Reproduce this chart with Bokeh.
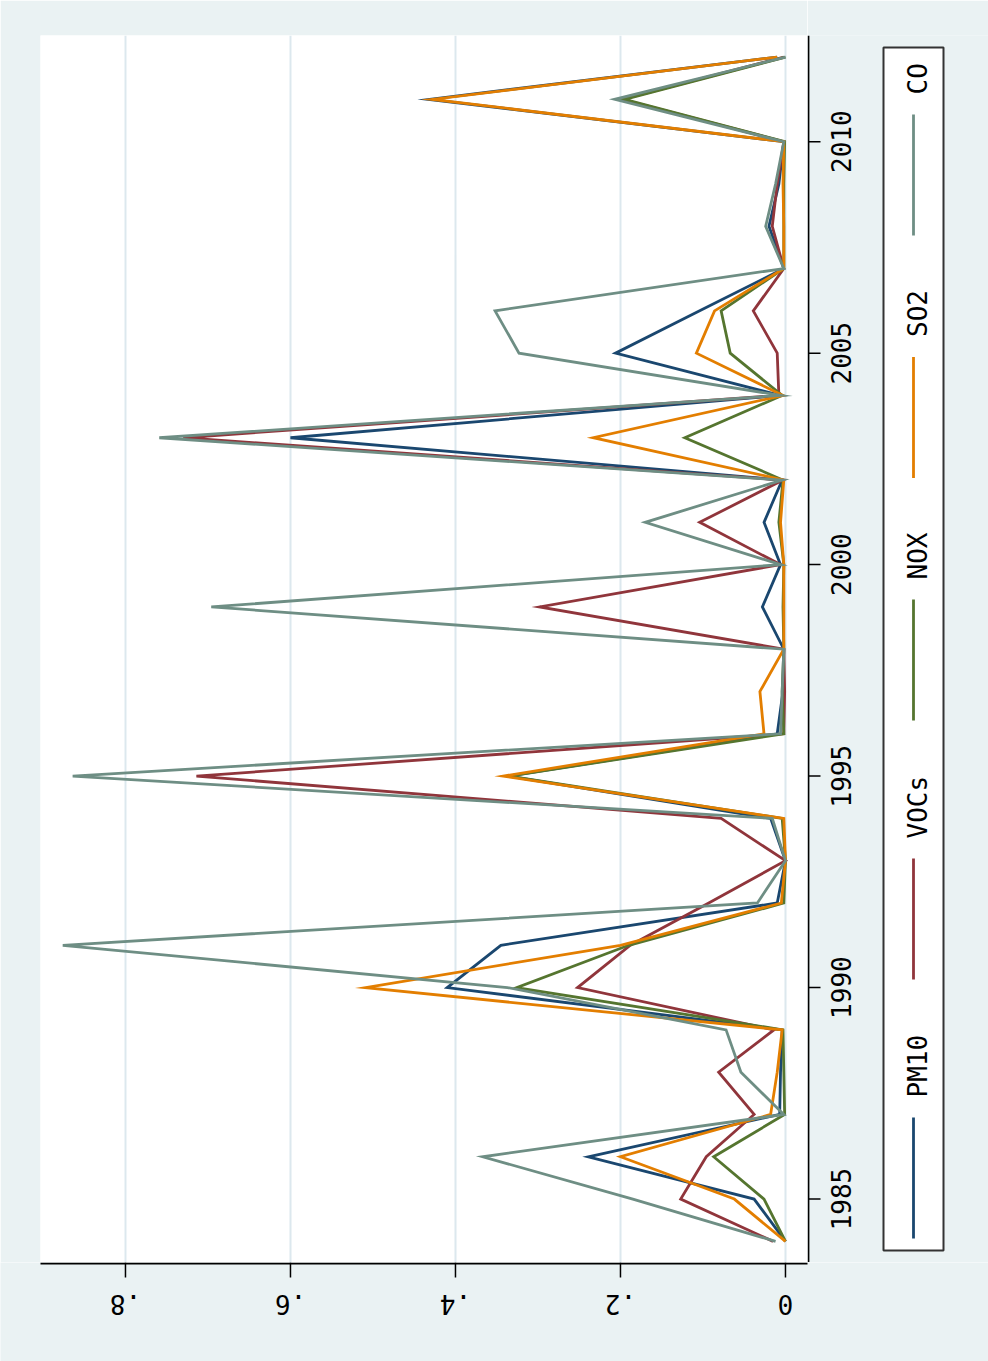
import math
from bokeh.plotting import figure
from bokeh.models import Range1d, FixedTicker
from bokeh.layouts import row, column
from bokeh.embed import file_html
from bokeh.resources import INLINE
from bokeh.core.properties import value

years = list(range(1984, 2013))
pm10 = [0.000, 0.038, 0.239, 0.007, 0.006, 0.004, 0.410, 0.345, 0.010, 0.000,
        0.018, 0.336, 0.010, 0.003, 0.002, 0.028, 0.006, 0.026, 0.004, 0.600,
        0.006, 0.206, 0.104, 0.002, 0.020, 0.008, 0.002, 0.432, 0.010]
vocs = [0.015, 0.127, 0.096, 0.038, 0.081, 0.014, 0.252, 0.188, 0.093, 0.000,
        0.078, 0.714, 0.002, 0.001, 0.002, 0.298, 0.006, 0.104, 0.003, 0.730,
        0.008, 0.010, 0.039, 0.002, 0.016, 0.010, 0.002, 0.198, 0.002]
nox = [0.000, 0.026, 0.087, 0.001, 0.002, 0.003, 0.326, 0.190, 0.002, 0.000,
       0.004, 0.335, 0.002, 0.004, 0.002, 0.003, 0.002, 0.008, 0.003, 0.122,
       0.004, 0.067, 0.078, 0.002, 0.002, 0.002, 0.001, 0.195, 0.000]
so2 = [0.000, 0.062, 0.200, 0.018, 0.010, 0.004, 0.509, 0.200, 0.005, 0.000,
       0.002, 0.342, 0.026, 0.031, 0.002, 0.002, 0.002, 0.006, 0.002, 0.233,
       0.003, 0.108, 0.086, 0.002, 0.002, 0.003, 0.002, 0.428, 0.010]
co = [0.012, 0.185, 0.367, 0.002, 0.054, 0.072, 0.337, 0.876, 0.034, 0.000,
      0.016, 0.864, 0.006, 0.004, 0.002, 0.696, 0.006, 0.170, 0.004, 0.759,
      0.006, 0.323, 0.352, 0.002, 0.024, 0.012, 0.002, 0.207, 0.000]

series_names = ["PM10", "VOCs", "NOX", "SO2", "CO"]
series_values = [pm10, vocs, nox, so2, co]
colors = ["#1a476f", "#90353b", "#55752f", "#e37e00", "#6e8e84"]
value_ticks = [0, 0.2, 0.4, 0.6, 0.8]
value_tick_labels = ["0", ".2", ".4", ".6", ".8"]
year_ticks = [1985, 1990, 1995, 2000, 2005, 2010]
year_tick_labels = [str(y) for y in year_ticks]

BG = "#eaf2f3"
FONT = "DejaVu Sans Mono"
FS = "26px"
W_TOTAL = 988
W_MAIN = 807
B_LEFT = 40
H_TOP = 1262
H_BOTTOM = 99
B_TOP = 35
XLEFT, XRIGHT = 0.903, -0.0267
YMIN, YMAX = 1983.5, 2012.51

# per-pixel scale of the main frame, used to extend the value range below
X_PER_PX = (XLEFT - XRIGHT) / (W_MAIN - B_LEFT)

value_range = Range1d(XLEFT, XRIGHT)
year_range = Range1d(YMIN, YMAX)

# main plot area
p = figure(width=W_MAIN, height=H_TOP, output_backend="svg",
           toolbar_location=None, x_range=value_range, y_range=year_range,
           x_axis_location=None, y_axis_location=None,
           min_border_left=B_LEFT, min_border_right=0,
           min_border_top=B_TOP, min_border_bottom=0,
           background_fill_color="white", border_fill_color=BG,
           outline_line_color=None)

for name, vals, c in zip(series_names, series_values, colors):
    p.line(x=vals, y=years, line_color=c, line_width=2.8, line_join="miter")

p.xgrid.ticker = FixedTicker(ticks=value_ticks)
p.xgrid.grid_line_color = "#dce8ee"
p.xgrid.grid_line_width = 2
p.ygrid.visible = False

# right side: year axis (rotated labels) + rotated legend, sharing the year scale
side = figure(width=W_TOTAL - W_MAIN, height=H_TOP, output_backend="svg",
              toolbar_location=None,
              x_range=Range1d(W_MAIN, W_TOTAL), y_range=year_range,
              x_axis_location=None, y_axis_location=None,
              min_border_left=0, min_border_right=0,
              min_border_top=B_TOP, min_border_bottom=0,
              background_fill_color=BG, border_fill_color=BG,
              outline_line_color=None)
side.extra_y_ranges = {"px": Range1d(H_TOP, B_TOP)}
side.grid.visible = False

side.segment(x0=[808], y0=[YMIN], x1=[808], y1=[YMAX], line_color="black",
             line_width=1.8)
side.segment(x0=[808] * len(year_ticks), y0=year_ticks,
             x1=[820] * len(year_ticks), y1=year_ticks,
             line_color="black", line_width=1.5)
side.text(x=[840] * len(year_ticks), y=year_ticks, text=year_tick_labels,
          angle=math.pi / 2, text_align="center", text_baseline="middle",
          text_font=value(FONT), text_font_size=FS, text_color="black")

side.quad(left=883, right=943, top=47, bottom=1250, fill_color="white",
          line_color="#333333", line_width=2, y_range_name="px")

start = 1238
for name, c in zip(series_names, colors):
    side.line(x=[913, 913], y=[start, start - 121], line_color=c,
              line_width=2.8, y_range_name="px")
    side.text(x=[917], y=[start - 141], text=[name], angle=math.pi / 2,
              text_align="left", text_baseline="middle",
              text_font=value(FONT), text_font_size=FS, text_color="black",
              y_range_name="px")
    start -= 121 + 20 + 16.5 * len(name) + 52

# bottom: value axis (upside-down labels), same value scale
bottom = figure(width=W_TOTAL, height=H_BOTTOM, output_backend="svg",
                toolbar_location=None,
                x_range=Range1d(XLEFT + B_LEFT * X_PER_PX,
                                XRIGHT - (W_TOTAL - W_MAIN) * X_PER_PX),
                y_range=Range1d(H_BOTTOM, 0),
                x_axis_location=None, y_axis_location=None,
                min_border_left=0, min_border_right=0,
                min_border_top=0, min_border_bottom=0,
                background_fill_color=BG, border_fill_color=BG,
                outline_line_color=None)
bottom.grid.visible = False
bottom.segment(x0=[XLEFT], y0=[1], x1=[XRIGHT], y1=[1], line_color="black",
               line_width=1.8)
bottom.segment(x0=value_ticks, y0=[0] * len(value_ticks), x1=value_ticks,
               y1=[15] * len(value_ticks), line_color="black", line_width=1.5)
bottom.text(x=value_ticks, y=[42] * len(value_ticks), text=value_tick_labels,
            angle=math.pi, text_align="center", text_baseline="middle",
            text_font=value(FONT), text_font_size=FS, text_color="black")

layout = column(row(p, side), bottom)
open("out.html", "w").write(file_html(layout, INLINE))
